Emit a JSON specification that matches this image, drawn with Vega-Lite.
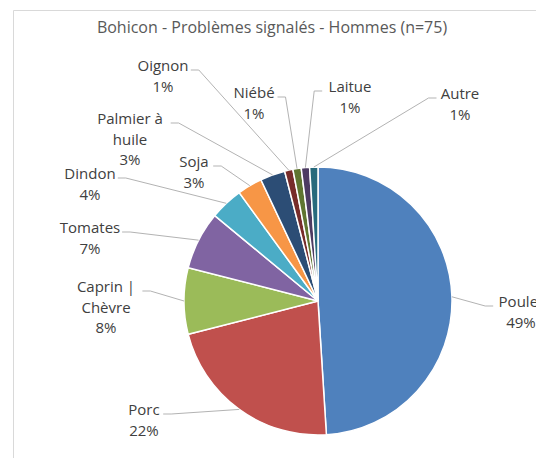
{
  "$schema": "https://vega.github.io/schema/vega-lite/v6.json",
  "width": 540,
  "height": 460,
  "autosize": {"type": "none"},
  "padding": {"left": 13, "top": 10, "right": 0, "bottom": 0},
  "background": "white",
  "config": {"view": {"stroke": "#d9d9d9", "strokeWidth": 1}},
  "title": {
    "text": "Bohicon - Problèmes signalés - Hommes (n=75)",
    "font": "Open Sans",
    "fontSize": 16,
    "fontWeight": "normal",
    "color": "#595959",
    "anchor": "middle",
    "frame": "group",
    "dx": -11,
    "offset": -39,
    "baseline": "alphabetic"
  },
  "data": {
    "values": [
      {"categorie": "Poulet", "pct": 49},
      {"categorie": "Porc", "pct": 22},
      {"categorie": "Caprin | Chèvre", "pct": 8},
      {"categorie": "Tomates", "pct": 7},
      {"categorie": "Dindon", "pct": 4},
      {"categorie": "Soja", "pct": 3},
      {"categorie": "Palmier à huile", "pct": 3},
      {"categorie": "Oignon", "pct": 1},
      {"categorie": "Niébé", "pct": 1},
      {"categorie": "Laitue", "pct": 1},
      {"categorie": "Autre", "pct": 1}
    ]
  },
  "transform": [
    {"window": [{"op": "row_number", "as": "rang"}]},
    {"joinaggregate": [{"op": "sum", "field": "pct", "as": "total"}]},
    {"window": [{"op": "sum", "field": "pct", "as": "cumfin"}], "sort": [{"field": "rang"}], "frame": [null, 0]},
    {"calculate": "(datum.cumfin - datum.pct / 2) / datum.total * 2 * PI", "as": "mid"},
    {"calculate": "134 * sin(datum.mid)", "as": "ex"},
    {"calculate": "134 * cos(datum.mid)", "as": "ey"},
    {"calculate": "length(datum.categorie) > 10 ? substring(datum.categorie, 0, lastindexof(datum.categorie, ' ')) + '\\n' + substring(datum.categorie, lastindexof(datum.categorie, ' ') + 1) : datum.categorie", "as": "nom"},
    {"calculate": "datum.nom + '\\n' + datum.pct + '%'", "as": "etiquette"},
    {"calculate": "length(split(datum.nom, '\\n')[0])", "as": "nc"},
    {"calculate": "({'Poulet': 203, 'Porc': -174, 'Caprin | Chèvre': -212, 'Tomates': -228, 'Dindon': -228, 'Soja': -124, 'Palmier à huile': -188, 'Oignon': -155, 'Niébé': -64, 'Laitue': 32, 'Autre': 142})[datum.categorie]", "as": "lx"},
    {"calculate": "({'Poulet': -6, 'Porc': -114, 'Caprin | Chèvre': 9, 'Tomates': 68, 'Dindon': 122, 'Soja': 134, 'Palmier à huile': 177, 'Oignon': 230, 'Niébé': 203, 'Laitue': 209, 'Autre': 202})[datum.categorie]", "as": "ly"},
    {"calculate": "datum.ex > datum.lx ? 1 : -1", "as": "side"},
    {"calculate": "datum.lx + datum.side * (4.3 * datum.nc + 2)", "as": "ax"},
    {"calculate": "datum.ly + 1", "as": "ay"},
    {"calculate": "datum.ax + datum.side * 8", "as": "bx"}
  ],
  "layer": [
    {
      "mark": {"type": "arc", "radius": 134, "stroke": "white", "strokeWidth": 1.5},
      "encoding": {
        "theta": {"field": "pct", "type": "quantitative", "stack": true},
        "order": {"field": "rang", "type": "quantitative"},
        "color": {
          "field": "categorie",
          "type": "nominal",
          "legend": null,
          "scale": {
            "domain": ["Poulet", "Porc", "Caprin | Chèvre", "Tomates", "Dindon", "Soja", "Palmier à huile", "Oignon", "Niébé", "Laitue", "Autre"],
            "range": ["#4F81BD", "#C0504D", "#9BBB59", "#8064A2", "#4BACC6", "#F79646", "#2C4D75", "#772C2A", "#5F7530", "#4D3B62", "#276A7C"]
          }
        },
        "x": {"datum": 0, "type": "quantitative", "scale": {"domain": [-305, 235], "nice": false, "zero": false}, "axis": null},
        "y": {"datum": 0, "type": "quantitative", "scale": {"domain": [-169, 291], "nice": false, "zero": false}, "axis": null}
      }
    },
    {
      "mark": {"type": "rule", "color": "#b3b3b3", "strokeWidth": 1},
      "encoding": {
        "x": {"field": "bx", "type": "quantitative", "scale": {"domain": [-305, 235], "nice": false, "zero": false}, "axis": null},
        "x2": {"field": "ex"},
        "y": {"field": "ay", "type": "quantitative", "scale": {"domain": [-169, 291], "nice": false, "zero": false}, "axis": null},
        "y2": {"field": "ey"}
      }
    },
    {
      "mark": {"type": "rule", "color": "#b3b3b3", "strokeWidth": 1},
      "encoding": {
        "x": {"field": "ax", "type": "quantitative", "scale": {"domain": [-305, 235], "nice": false, "zero": false}, "axis": null},
        "x2": {"field": "bx"},
        "y": {"field": "ay", "type": "quantitative", "scale": {"domain": [-169, 291], "nice": false, "zero": false}, "axis": null},
        "y2": {"field": "ay"}
      }
    },
    {
      "mark": {"type": "text", "align": "center", "baseline": "alphabetic", "font": "Open Sans", "fontSize": 15, "color": "#404040", "lineBreak": "\n", "lineHeight": 20.5},
      "encoding": {
        "x": {"field": "lx", "type": "quantitative", "scale": {"domain": [-305, 235], "nice": false, "zero": false}, "axis": null},
        "y": {"field": "ly", "type": "quantitative", "scale": {"domain": [-169, 291], "nice": false, "zero": false}, "axis": null},
        "text": {"field": "etiquette", "type": "nominal"}
      }
    }
  ]
}
